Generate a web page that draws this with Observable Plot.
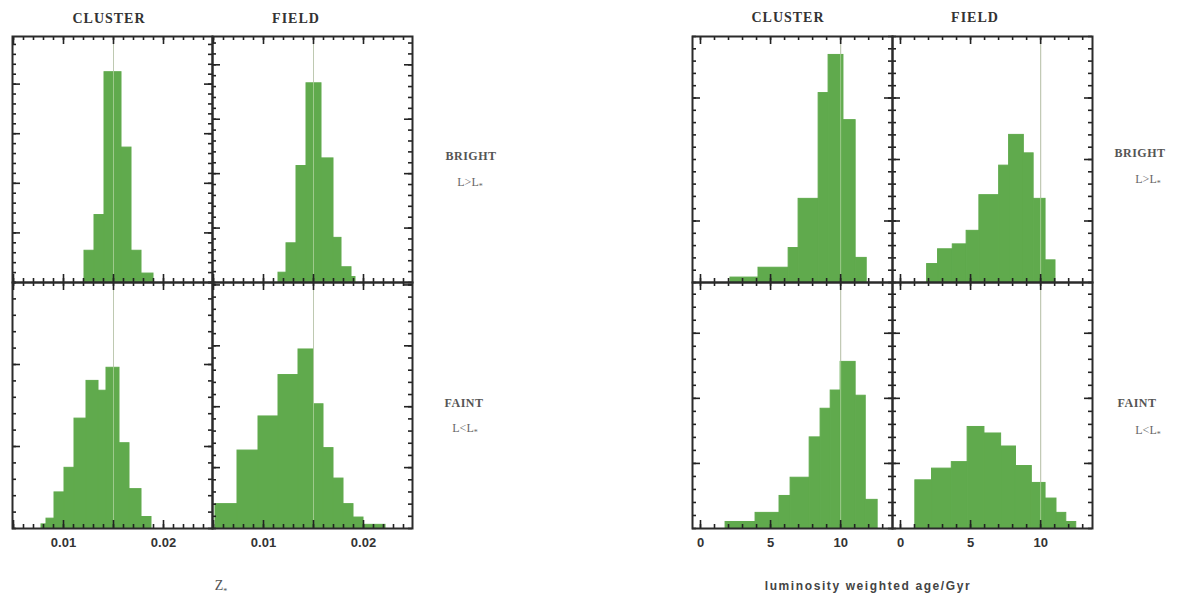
<!DOCTYPE html>
<html><head><meta charset="utf-8">
<script src="https://cdn.jsdelivr.net/npm/d3@7"></script>
<script src="https://cdn.jsdelivr.net/npm/@observablehq/plot@0.6"></script>
<style>
body{margin:0;background:#fff;}
#c{position:relative;width:1187px;height:597px;overflow:hidden;background:#fff;}
.p{position:absolute;}
.t{position:absolute;transform:translate(-50%,-50%);white-space:nowrap;color:#333;}
.hd{font-family:"Liberation Serif",serif;font-weight:bold;font-size:14px;letter-spacing:1px;}
.rw{font-family:"Liberation Serif",serif;font-weight:bold;font-size:12px;color:#555;letter-spacing:0.5px;}
.lm{font-family:"Liberation Serif",serif;font-size:12px;color:#666;}
.lm sub{font-size:8px;}
.ax{font-family:"Liberation Sans",sans-serif;font-weight:bold;font-size:12px;letter-spacing:1.6px;color:#444;}
.zt{font-family:"Liberation Serif",serif;font-size:14px;color:#555;}
.zt sub{font-size:8px;}
</style></head><body><div id="c"></div>
<script>
// ---- data: histogram bin edges and heights (counts) ----
const zTicks = [0.01, 0.02];
const ageTicks = [0, 5, 10];

const zBrightClusterEdges = [0.0121, 0.0131, 0.0141, 0.0158, 0.0168, 0.0178, 0.0190];
const zBrightClusterCounts = [3.2, 6.8, 21.2, 13.6, 3.2, 0.9];

const zBrightFieldEdges = [0.0115, 0.0123, 0.0133, 0.0143, 0.0158, 0.0170, 0.0178, 0.0188, 0.0192];
const zBrightFieldCounts = [0.9, 3.6, 10.7, 18.3, 11.4, 4.1, 1.4, 0.5];

const zFaintClusterEdges = [0.0078, 0.0083, 0.0091, 0.0101, 0.0111, 0.0123, 0.0135, 0.0143, 0.0156, 0.0166, 0.0178, 0.0188];
const zFaintClusterCounts = [0.25, 0.6, 2.2, 3.7, 6.7, 9.0, 8.4, 9.8, 5.2, 2.4, 0.7];

const zFaintFieldEdges = [0.0052, 0.0074, 0.0095, 0.0115, 0.0135, 0.0150, 0.0160, 0.0170, 0.0180, 0.0190, 0.0200, 0.0222];
const zFaintFieldCounts = [2.0, 6.4, 9.2, 12.6, 14.7, 10.2, 6.6, 4.1, 2.0, 0.9, 0.3];

const ageBrightClusterEdges = [2.14, 4.14, 6.29, 7.0, 8.43, 9.14, 10.2, 11.07, 11.86];
const ageBrightClusterCounts = [0.4, 1.2, 2.8, 6.8, 15.4, 18.5, 13.2, 2.0];

const ageBrightFieldEdges = [1.9, 2.68, 3.73, 4.72, 5.63, 7.04, 7.75, 8.8, 9.5, 10.35, 11.06];
const ageBrightFieldCounts = [1.5, 2.7, 3.1, 4.2, 7.1, 9.5, 12.0, 10.5, 6.8, 1.8];

const ageFaintClusterEdges = [1.79, 3.93, 5.64, 6.43, 7.79, 8.57, 9.29, 10.0, 11.07, 11.79, 12.64];
const ageFaintClusterCounts = [0.5, 1.2, 2.5, 3.9, 7.0, 9.2, 10.6, 12.8, 10.2, 2.2];

const ageFaintFieldEdges = [1.06, 2.25, 3.66, 4.79, 5.99, 7.18, 8.24, 9.37, 10.35, 11.13, 11.83, 12.54];
const ageFaintFieldCounts = [3.7, 4.6, 5.1, 7.8, 7.3, 6.3, 4.8, 3.5, 2.3, 1.2, 0.5];

const zRef = 0.015, ageRef = 10;
const zDomain = [0.0049, 0.0249];
const ageDomain = [-0.57, 13.7];

// ---- layout ----
const GREEN = "#60aa4d";
const W = 200, H = 246;
const container = document.getElementById("c");

function steps(lo, hi, step) {
  const a = Math.ceil(lo / step - 1e-9), b = Math.floor(hi / step + 1e-9);
  return d3.range(a, b + 1).map(k => +(k * step).toFixed(6));
}

function panel(cfg) {
  const mb = cfg.bottom ? 30 : 0;
  const bins = cfg.edges.slice(0, -1).map((e, i) => ({x1: e, x2: cfg.edges[i + 1], n: cfg.counts[i]}));
  const minorX = steps(cfg.xDomain[0], cfg.xDomain[1], cfg.xMinor);
  const majorX = steps(cfg.xDomain[0], cfg.xDomain[1], cfg.xMajor);
  const minorY = steps(0, cfg.yMax, 1);
  const majorY = cfg.yMajor;
  const tk = {stroke: "#222", strokeWidth: 1.6};
  const marks = [
    Plot.ruleX([cfg.ref], {stroke: "#b0a8a8", strokeWidth: 1}),
    Plot.rectY(bins, {x1: "x1", x2: "x2", y: "n", fill: GREEN, stroke: GREEN, strokeWidth: 1}),
    Plot.ruleX([cfg.ref], {stroke: "#c8e0b8", strokeWidth: 1, strokeOpacity: 0.6}),
    Plot.tickX(minorX, {x: d => d, insetBottom: H - 4, ...tk}),
    Plot.tickX(minorX, {x: d => d, insetTop: H - 4, ...tk}),
    Plot.tickX(majorX, {x: d => d, insetBottom: H - 8, ...tk}),
    Plot.tickX(majorX, {x: d => d, insetTop: H - 8, ...tk}),
    Plot.tickY(minorY, {y: d => d, insetRight: W - 4, ...tk}),
    Plot.tickY(minorY, {y: d => d, insetLeft: W - 4, ...tk}),
    Plot.tickY(majorY, {y: d => d, insetRight: W - 8, ...tk}),
    Plot.tickY(majorY, {y: d => d, insetLeft: W - 8, ...tk}),
    Plot.frame({stroke: "#2b2b2b", strokeWidth: 2})
  ];
  if (cfg.bottom) {
    marks.push(Plot.axisX(cfg.labels, {anchor: "bottom", tickSize: 0, tickPadding: 9,
      tickFormat: cfg.fmt, fontSize: 13, fontWeight: "bold", fill: "#333",
      fontFamily: "Liberation Sans, sans-serif", letterSpacing: 0.8}));
  }
  const svg = Plot.plot({
    width: W, height: H + mb,
    marginTop: 0, marginLeft: 0, marginRight: 0, marginBottom: mb,
    x: {domain: cfg.xDomain, axis: null},
    y: {domain: [0, cfg.yMax], axis: null},
    style: {overflow: "visible", background: "transparent"},
    marks
  });
  svg.classList.add("p");
  svg.style.left = cfg.left + "px";
  svg.style.top = cfg.top + "px";
  container.appendChild(svg);
}

const zBase = {xDomain: zDomain, xMinor: 0.001, xMajor: 0.005, ref: zRef, labels: zTicks, fmt: d3.format(".2f")};
const ageBase = {xDomain: ageDomain, xMinor: 1, xMajor: 5, ref: ageRef, labels: ageTicks, fmt: d3.format("d")};

panel({...zBase, left: 12, top: 36, edges: zBrightClusterEdges, counts: zBrightClusterCounts, yMax: 24.8, yMajor: [5, 10, 15, 20]});
panel({...zBase, left: 212, top: 36, edges: zBrightFieldEdges, counts: zBrightFieldCounts, yMax: 22.6, yMajor: [5, 10, 15, 20]});
panel({...zBase, left: 12, top: 282, bottom: true, edges: zFaintClusterEdges, counts: zFaintClusterCounts, yMax: 15, yMajor: [5, 10]});
panel({...zBase, left: 212, top: 282, bottom: true, edges: zFaintFieldEdges, counts: zFaintFieldCounts, yMax: 20.2, yMajor: [5, 10, 15, 20]});

panel({...ageBase, left: 692, top: 36, edges: ageBrightClusterEdges, counts: ageBrightClusterCounts, yMax: 20, yMajor: [5, 15]});
panel({...ageBase, left: 892, top: 36, edges: ageBrightFieldEdges, counts: ageBrightFieldCounts, yMax: 20, yMajor: [5, 10, 15]});
panel({...ageBase, left: 692, top: 282, bottom: true, edges: ageFaintClusterEdges, counts: ageFaintClusterCounts, yMax: 18.9, yMajor: [5, 10, 15]});
panel({...ageBase, left: 892, top: 282, bottom: true, edges: ageFaintFieldEdges, counts: ageFaintFieldCounts, yMax: 18.9, yMajor: [5, 10, 15]});

// ---- text ----
function label(html, cls, x, y) {
  const d = document.createElement("div");
  d.className = "t " + cls;
  d.innerHTML = html;
  d.style.left = x + "px";
  d.style.top = y + "px";
  container.appendChild(d);
}
label("CLUSTER", "hd", 109, 19);
label("FIELD", "hd", 296, 19);
label("CLUSTER", "hd", 788, 18);
label("FIELD", "hd", 975, 18);

label("BRIGHT", "rw", 471, 156);
label("L&gt;L<sub>*</sub>", "lm", 470, 183);
label("FAINT", "rw", 464, 403);
label("L&lt;L<sub>*</sub>", "lm", 465, 429);

label("BRIGHT", "rw", 1140, 153);
label("L&gt;L<sub>*</sub>", "lm", 1148, 180);
label("FAINT", "rw", 1137, 403);
label("L&lt;L<sub>*</sub>", "lm", 1148, 431);

label("Z<sub>*</sub>", "zt", 221, 587);
label("luminosity weighted age/Gyr", "ax", 868, 586);
</script></body></html>
